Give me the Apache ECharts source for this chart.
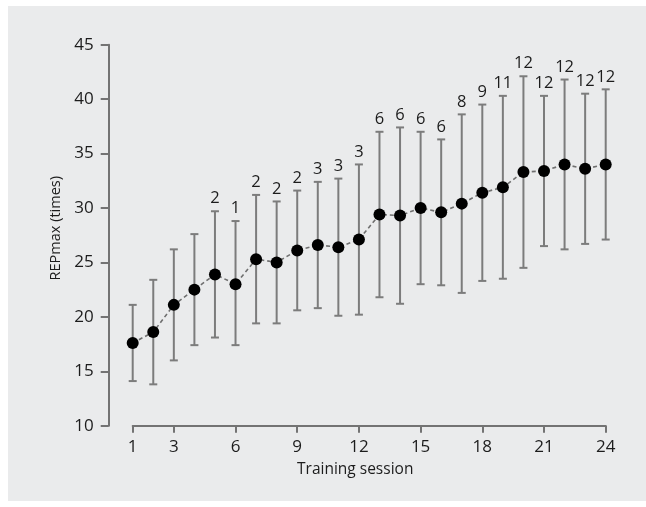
<!DOCTYPE html>
<html>
<head>
<meta charset="utf-8">
<script src="https://cdn.jsdelivr.net/npm/echarts@6/dist/echarts.min.js"></script>
<style>
  html, body { margin: 0; padding: 0; background: #ffffff; }
  #chart { width: 646px; height: 507px; }
</style>
</head>
<body>
<div id="chart"></div>
<script>
// Training sessions 1..24
const sessions = ['1','2','3','4','5','6','7','8','9','10','11','12',
                  '13','14','15','16','17','18','19','20','21','22','23','24'];
// Mean REPmax per session
const meanReps  = [17.6, 18.6, 21.1, 22.5, 23.9, 23.0, 25.3, 25.0, 26.1, 26.6, 26.4, 27.1,
                   29.4, 29.3, 30.0, 29.6, 30.4, 31.4, 31.9, 33.3, 33.4, 34.0, 33.6, 34.0];
// Upper and lower ends of the error bars
const upperReps = [21.1, 23.4, 26.2, 27.6, 29.7, 28.8, 31.2, 30.6, 31.6, 32.4, 32.7, 34.0,
                   37.0, 37.4, 37.0, 36.3, 38.6, 39.5, 40.3, 42.1, 40.3, 41.8, 40.5, 40.9];
const lowerReps = [14.1, 13.8, 16.0, 17.4, 18.1, 17.4, 19.4, 19.4, 20.6, 20.8, 20.1, 20.2,
                   21.8, 21.2, 23.0, 22.9, 22.2, 23.3, 23.5, 24.5, 26.5, 26.2, 26.7, 27.1];
// Counts printed above each error bar
const countLabels = ['', '', '', '', '2', '1', '2', '2', '2', '3', '3', '3',
                     '6', '6', '6', '6', '8', '9', '11', '12', '12', '12', '12', '12'];
// Sessions that carry a tick and label on the x axis
const xTickLabels = ['1','3','6','9','12','15','18','21','24'];

const FONT = '"Open Sans", "Noto Sans", sans-serif';
const TEXT = '#1c1c1c';
const AXIS = '#737373';
const BAR = '#7c7c7c';

const chart = echarts.init(document.getElementById('chart'), null, { renderer: 'canvas' });

const showTick = (idx) => xTickLabels.indexOf(sessions[idx]) !== -1;

chart.setOption({
  animation: false,
  backgroundColor: '#ffffff',
  graphic: [{
    type: 'rect', z: -10, silent: true,
    shape: { x: 8, y: 6, width: 638, height: 495 },
    style: { fill: '#eaebec' }
  }],
  grid: { left: 132.7, right: 40.3, top: 44.7, bottom: 81.3, containLabel: false },
  xAxis: {
    type: 'category',
    data: sessions,
    boundaryGap: false,
    name: 'Training session',
    nameLocation: 'middle',
    nameGap: 36,
    nameTextStyle: { fontFamily: FONT, fontSize: 15.5, color: TEXT, padding: [0, 28, 0, 0] },
    axisLine: { show: true, lineStyle: { color: AXIS, width: 2 } },
    axisTick: { show: true, interval: (idx) => showTick(idx), length: 7, lineStyle: { color: AXIS, width: 2 } },
    axisLabel: { interval: (idx) => showTick(idx), margin: 13, fontFamily: FONT, fontSize: 17, color: TEXT },
    splitLine: { show: false }
  },
  yAxis: {
    type: 'value',
    min: 10, max: 45, interval: 5,
    offset: 24,
    name: 'REPmax (times)',
    nameLocation: 'middle',
    nameGap: 45,
    nameTextStyle: { fontFamily: FONT, fontSize: 14.5, color: TEXT, padding: [0, 0, 0, 14] },
    axisLine: { show: true, lineStyle: { color: AXIS, width: 2 } },
    axisTick: { show: true, length: 8, lineStyle: { color: AXIS, width: 2 } },
    axisLabel: { margin: 15, fontFamily: FONT, fontSize: 17, color: TEXT },
    splitLine: { show: false }
  },
  series: [
    {
      // error bars with caps and the count above each bar
      type: 'custom',
      z: 2,
      data: sessions.map((s, i) => [i, lowerReps[i], upperReps[i]]),
      renderItem: function (params, api) {
        const idx = api.value(0);
        const lo = api.coord([idx, api.value(1)]);
        const hi = api.coord([idx, api.value(2)]);
        const half = 4;
        const lineStyle = { stroke: BAR, lineWidth: 2 };
        const children = [
          { type: 'line', shape: { x1: lo[0], y1: lo[1], x2: hi[0], y2: hi[1] }, style: lineStyle },
          { type: 'line', shape: { x1: hi[0] - half, y1: hi[1], x2: hi[0] + half, y2: hi[1] }, style: lineStyle },
          { type: 'line', shape: { x1: lo[0] - half, y1: lo[1], x2: lo[0] + half, y2: lo[1] }, style: lineStyle }
        ];
        const txt = countLabels[params.dataIndex];
        if (txt) {
          children.push({
            type: 'text',
            x: hi[0], y: hi[1] - 4,
            style: {
              text: txt, align: 'center', verticalAlign: 'bottom',
              fontFamily: FONT, fontSize: 16.5, fill: TEXT
            }
          });
        }
        return { type: 'group', children: children };
      }
    },
    {
      // mean values joined by a dashed line
      type: 'line',
      z: 3,
      data: meanReps,
      symbol: 'circle',
      symbolSize: 12,
      itemStyle: { color: '#000000', borderWidth: 0 },
      lineStyle: { color: '#6f6f6f', width: 1.6, type: [4, 3] }
    }
  ]
});
</script>
</body>
</html>
